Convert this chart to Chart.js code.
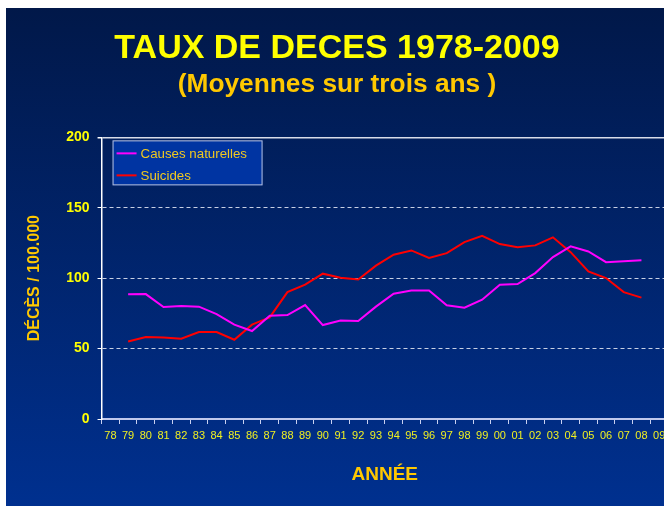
<!DOCTYPE html>
<html lang="fr">
<head>
<meta charset="utf-8">
<title>Taux de décès 1978-2009</title>
<script src="https://cdn.jsdelivr.net/npm/chart.js@4/dist/chart.umd.min.js"></script>
<style>
  html, body { margin: 0; padding: 0; background: #fff; }
  #panel {
    position: absolute; left: 6px; top: 8px; width: 658px; height: 498px;
    overflow: hidden;
    background: linear-gradient(#011849, #00308f);
  }
  #chart { position: absolute; left: 0; top: 0; }
</style>
</head>
<body>
<div id="panel"><canvas id="chart" width="674" height="498"></canvas></div>
<script>
// années (deux chiffres) de 1978 à 2009
const annees = ['78', '79', '80', '81', '82', '83', '84', '85', '86', '87', '88', '89', '90', '91',
  '92', '93', '94', '95', '96', '97', '98', '99', '00', '01', '02', '03', '04', '05', '06', '07', '08', '09'];

// moyennes mobiles sur trois ans, décès pour 100 000
const causesNaturelles = [null, 88.5, 88.7, 79.5, 80.2, 79.8, 74.5, 67, 62.5, 73.4, 73.8, 80.9, 66.7, 70,
  69.6, 79.8, 89, 91.3, 91.3, 80.7, 79, 84.7, 95.4, 95.8, 103.6, 115, 122.6, 119, 111.4, 112.1, 112.8, null];
const suicides = [null, 55.1, 58.2, 57.8, 57, 61.7, 61.7, 56.3, 67, 72.2, 90.1, 95.4, 103.2, 100.3,
  99.1, 108.9, 116.7, 119.7, 114.3, 117.8, 125.6, 130.1, 124.2, 121.9, 123.3, 129, 118.5, 104.8, 100.1, 90.1, 86.2, null];

const yTicks = [0, 50, 100, 150, 200];

const FONT = '"Liberation Sans", Arial, sans-serif';

// légende encadrée dans le coin haut gauche du graphique
const legendeEncadree = {
  id: 'legendeEncadree',
  afterDraw(chart) {
    const { ctx, chartArea } = chart;
    const x = chartArea.left + 11, y = chartArea.top + 3, w = 150, h = 45;
    ctx.save();
    ctx.fillStyle = '#0034a2';
    ctx.fillRect(x, y, w, h);
    ctx.strokeStyle = '#b8c0d8';
    ctx.lineWidth = 1;
    ctx.strokeRect(x + 0.5, y + 0.5, w - 1, h - 1);
    ctx.font = '13.3px ' + FONT;
    ctx.textBaseline = 'middle';
    chart.data.datasets.forEach((ds, i) => {
      const cy = y + 13 + i * 22;
      ctx.strokeStyle = ds.borderColor;
      ctx.lineWidth = 2;
      ctx.beginPath();
      ctx.moveTo(x + 4, cy);
      ctx.lineTo(x + 24, cy);
      ctx.stroke();
      ctx.fillStyle = '#f0c820';
      ctx.fillText(ds.label, x + 28, cy + 1);
    });
    ctx.restore();
  }
};

new Chart(document.getElementById('chart'), {
  type: 'line',
  data: {
    labels: annees,
    datasets: [
      { label: 'Causes naturelles', data: causesNaturelles, borderColor: '#ff00ff', borderWidth: 2 },
      { label: 'Suicides', data: suicides, borderColor: '#ff0000', borderWidth: 2 }
    ]
  },
  options: {
    responsive: false,
    animation: false,
    elements: { point: { radius: 0 }, line: { tension: 0 } },
    layout: { padding: { left: 0, right: 12, top: 0, bottom: 20 } },
    plugins: {
      legend: { display: false },
      tooltip: { enabled: false },
      title: {
        display: true,
        text: 'TAUX DE DECES 1978-2009',
        color: '#ffff00',
        font: { family: FONT, size: 34, weight: 'bold' },
        padding: { top: 20, bottom: 0 }
      },
      subtitle: {
        display: true,
        text: '(Moyennes sur trois ans )',
        color: '#ffc800',
        font: { family: FONT, size: 26.3, weight: 'bold' },
        padding: { top: 0, bottom: 37 }
      }
    },
    scales: {
      x: {
        offset: true,
        grid: {
          offset: true,
          drawOnChartArea: false,
          drawTicks: true,
          tickLength: 5,
          tickColor: '#c8d0f0'
        },
        border: { color: '#c0c8ec', width: 2 },
        ticks: {
          color: '#f0f020',
          font: { family: FONT, size: 11 },
          padding: 5,
          maxRotation: 0,
          autoSkip: false
        },
        title: {
          display: true,
          text: 'ANNÉE',
          color: '#ffc800',
          font: { family: FONT, size: 19, weight: 'bold' },
          padding: { top: 16, bottom: 0 }
        }
      },
      y: {
        min: 0,
        max: 200,
        afterBuildTicks(scale) { scale.ticks = yTicks.map(v => ({ value: v })); },
        grid: {
          color: (c) => (c.tick && c.tick.value === 0) ? 'rgba(0,0,0,0)' : (c.tick && c.tick.value === 200 ? '#d8dce8' : '#c8d0e4'),
          lineWidth: (c) => (c.tick && c.tick.value === 200) ? 1.5 : 1,
          tickLength: 4,
          tickColor: '#ffffff'
        },
        border: {
          color: '#ffffff',
          width: 1.5,
          dash: (c) => (c.tick && c.tick.value === 200) ? [] : [4, 3]
        },
        ticks: {
          color: '#ffff00',
          font: { family: FONT, size: 14, weight: 'bold' },
          padding: 8
        },
        title: {
          display: true,
          text: 'DÉCÈS / 100.000',
          color: '#ffc800',
          font: { family: FONT, size: 16, weight: 'bold' },
          padding: { top: 19, bottom: 14 }
        }
      }
    }
  },
  plugins: [legendeEncadree]
});
</script>
</body>
</html>
